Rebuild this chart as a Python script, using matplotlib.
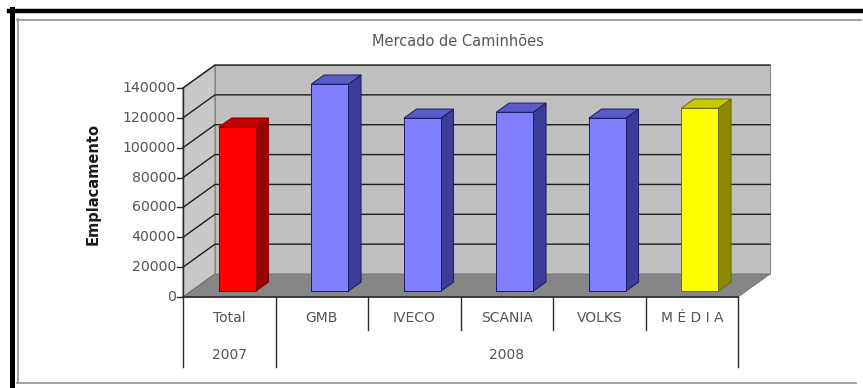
import matplotlib
matplotlib.use("Agg")
import matplotlib.pyplot as plt
from matplotlib.patches import Polygon
from matplotlib.lines import Line2D

# ---- data ----
categories = ["Total", "GMB", "IVECO", "SCANIA", "VOLKS", "M É D I A"]
groups = ["2007", "2008"]
group_sizes = [1, 5]
values = [109900, 138700, 115900, 119900, 115900, 122600]
front_colors = ["#ff0000", "#7f7fff", "#7f7fff", "#7f7fff", "#7f7fff", "#ffff00"]
side_colors = ["#990000", "#3d3d99", "#3d3d99", "#3d3d99", "#3d3d99", "#8a8a00"]
top_colors = ["#c40000", "#5c5cc8", "#5c5cc8", "#5c5cc8", "#5c5cc8", "#caca00"]
edge_colors = ["#8a0000", "#1a1a66", "#1a1a66", "#1a1a66", "#1a1a66", "#6a6a00"]
yticks = [0, 20000, 40000, 60000, 80000, 100000, 120000, 140000]
title = "Mercado de Caminhões"
ylabel = "Emplacamento"

W, H = 863, 388
fig = plt.figure(figsize=(W / 100, H / 100), dpi=100)
fig.patch.set_facecolor("white")

# front plane of the plot in pixels
L, R, B, T = 183, 738, 297, 88
ax = fig.add_axes([L / W, 1 - B / H, (R - L) / W, (B - T) / H])
ymax = 140000
ax.set_xlim(0, len(categories))
ax.set_ylim(0, ymax)
ax.axis("off")

cw = (R - L) / len(categories)        # px per category
pv = (B - T) / ymax                   # px per value unit
DXc = 32 / cw                         # depth offset in category units
DYv = 23 / pv                         # depth offset in value units


def P(x, y, z):
    return (x + z * DXc, y + z * DYv)


def poly(pts, fc, ec="none", lw=0.0, z=1):
    ax.add_patch(Polygon(pts, closed=True, facecolor=fc, edgecolor=ec,
                         linewidth=lw, clip_on=False, zorder=z))


n = len(categories)
# walls and floor
poly([P(0, 0, 0), P(0, ymax, 0), P(0, ymax, 1), P(0, 0, 1)], "#c8c8c8", "#7a7a7a", 0.8, 1)
poly([P(0, 0, 1), P(n, 0, 1), P(n, ymax, 1), P(0, ymax, 1)], "#c0c0c0", "#8a8a8a", 0.8, 1)
poly([P(0, 0, 0), P(n, 0, 0), P(n, 0, 1), P(0, 0, 1)], "#868686", "#6a6a6a", 0.6, 2)

# gridlines
for v in yticks[1:]:
    xs, ys = zip(P(0, v, 0), P(0, v, 1), P(n, v, 1))
    ax.add_line(Line2D(xs, ys, color="#1e1e1e", lw=1.0, clip_on=False, zorder=3))

# bars
bw = 0.4
z0, z1 = 0.25, 0.65
for i, v in enumerate(values):
    x0 = i + 0.5 - bw / 2
    x1 = i + 0.5 + bw / 2
    ec = edge_colors[i]
    poly([P(x1, 0, z0), P(x1, 0, z1), P(x1, v, z1), P(x1, v, z0)], side_colors[i], ec, 0.7, 5)
    poly([P(x0, v, z0), P(x1, v, z0), P(x1, v, z1), P(x0, v, z1)], top_colors[i], ec, 0.7, 5)
    poly([P(x0, 0, z0), P(x1, 0, z0), P(x1, v, z0), P(x0, v, z0)], front_colors[i], ec, 0.7, 6)

# axes lines
axc = "#2a2a2a"
ax.add_line(Line2D([0, 0], [0, ymax], color=axc, lw=1.0, clip_on=False, zorder=8))
ax.add_line(Line2D([0, n], [0, 0], color=axc, lw=1.2, clip_on=False, zorder=8))
tick_len = 6 / cw
txtc = "#555555"
for v in yticks:
    ax.add_line(Line2D([-tick_len, 0], [v, v], color=axc, lw=1.0, clip_on=False, zorder=8))
    ax.text(-tick_len - 1 / cw, v, f"{v}", ha="right", va="center", fontsize=10.2,
            color=txtc, clip_on=False)

# category table
row1 = -21 / pv
row2 = -58 / pv
short_end = -33 / pv
long_end = -70 / pv
for i, c in enumerate(categories):
    ax.text(i + 0.5, row1, c, ha="center", va="center", fontsize=10, color=txtc)
bounds = [0]
for s in group_sizes:
    bounds.append(bounds[-1] + s)
for k in range(n + 1):
    end = long_end if k in bounds else short_end
    ax.add_line(Line2D([k, k], [0, end], color=axc, lw=1.0, clip_on=False, zorder=8))
for g, a, b in zip(groups, bounds[:-1], bounds[1:]):
    ax.text((a + b) / 2, row2, g, ha="center", va="center", fontsize=10, color=txtc)

# title and axis label
fig.text(458 / W, 1 - 42 / H, title, ha="center", va="center", fontsize=10.5, color=txtc)
fig.text(93 / W, 1 - 184 / H, ylabel, ha="center", va="center", rotation=90,
         fontsize=10.5, fontweight="bold", color="#1a1a1a")

# frames
def fline(xs, ys, color, lw):
    fig.add_artist(Line2D([x / W for x in xs], [1 - y / H for y in ys],
                          color=color, lw=lw, transform=fig.transFigure))

fline([9, W], [11, 11], "black", 3.2)
fline([11.5, 11.5], [9, H], "black", 3.6)
fline([17, W - 2], [19.5, 19.5], "#9a9a9a", 1.3)
fline([17.5, 17.5], [19, 383], "#9a9a9a", 1.3)
fline([17, 856], [383, 383], "#9a9a9a", 1.3)

fig.savefig("out.png", dpi=100, facecolor="white")
